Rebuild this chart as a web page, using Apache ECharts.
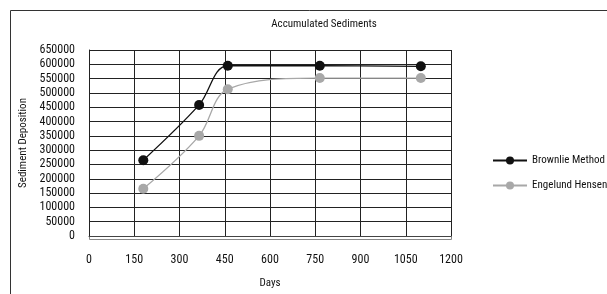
<!DOCTYPE html>
<html><head><meta charset="utf-8">
<script src="https://cdn.jsdelivr.net/npm/echarts@6/dist/echarts.min.js"></script>
<style>html,body{margin:0;padding:0;background:#fff}#c{width:607px;height:294px}</style>
</head><body><div id="c"></div>
<script>
const days = [180, 365, 460, 765, 1100];
const brownlie = [265000, 458000, 595000, 595000, 593000];
const engelund = [165000, 350000, 513000, 552000, 552000];
const seriesNames = ['Brownlie Method', 'Engelund Hensen'];
const FONT = '"Roboto Condensed", "Liberation Sans", sans-serif';
const TXT = '#111';
const chart = echarts.init(document.getElementById('c'), null, {renderer: 'canvas'});
chart.setOption({
  animation: false,
  backgroundColor: '#fff',
  textStyle: {fontFamily: FONT},
  title: {text: 'Accumulated Sediments', left: 319, top: 14, textAlign: 'center',
    textStyle: {fontFamily: FONT, fontSize: 11, fontWeight: 'normal', color: TXT}},
  graphic: [
    {type: 'rect', shape: {x: 10.5, y: 10.5, width: 700, height: 400}, style: {fill: 'none', stroke: '#333', lineWidth: 1}, silent: true},
    {type: 'rect', shape: {x: 89.5, y: 50.5, width: 362, height: 189}, style: {fill: 'none', stroke: '#888', lineWidth: 1}, silent: true, z: -1}
  ],
  legend: {orient: 'vertical', left: 487, top: 150, itemGap: 14, itemWidth: 34, itemHeight: 10,
    textStyle: {fontFamily: FONT, fontSize: 11, color: TXT},
    data: seriesNames},
  grid: {left: 89, top: 50, width: 362, height: 189, containLabel: false},
  xAxis: {type: 'value', min: 0, max: 1200, interval: 150,
    name: 'Days', nameLocation: 'middle', nameGap: 42,
    nameTextStyle: {fontFamily: FONT, fontSize: 11, color: TXT},
    axisLine: {show: true, lineStyle: {color: '#444', width: 1}},
    axisTick: {show: false},
    axisLabel: {margin: 18, fontFamily: FONT, fontSize: 12, color: TXT, formatter: v => String(v)},
    splitLine: {show: true, lineStyle: {color: '#222', width: 1}}},
  yAxis: {type: 'value', min: 0, max: 650000, interval: 50000,
    name: 'Sediment Deposition', nameLocation: 'middle', nameGap: 50,
    nameTextStyle: {fontFamily: FONT, fontSize: 11, color: TXT},
    axisLine: {show: true, lineStyle: {color: '#222', width: 1}},
    axisTick: {show: false},
    axisLabel: {margin: 14, fontFamily: FONT, fontSize: 12, color: TXT, formatter: v => String(v)},
    splitLine: {show: true, lineStyle: {color: '#222', width: 1}}},
  series: [
    {name: seriesNames[0], type: 'line', smooth: 0.35, data: days.map((d, i) => [d, brownlie[i]]),
      symbol: 'circle', symbolSize: 10, itemStyle: {color: '#111'}, lineStyle: {color: '#111', width: 1.3}, z: 3},
    {name: seriesNames[1], type: 'line', smooth: 0.35, data: days.map((d, i) => [d, engelund[i]]),
      symbol: 'circle', symbolSize: 10, itemStyle: {color: '#a8a8a8'}, lineStyle: {color: '#a8a8a8', width: 1.3}, z: 2}
  ]
});
</script></body></html>
